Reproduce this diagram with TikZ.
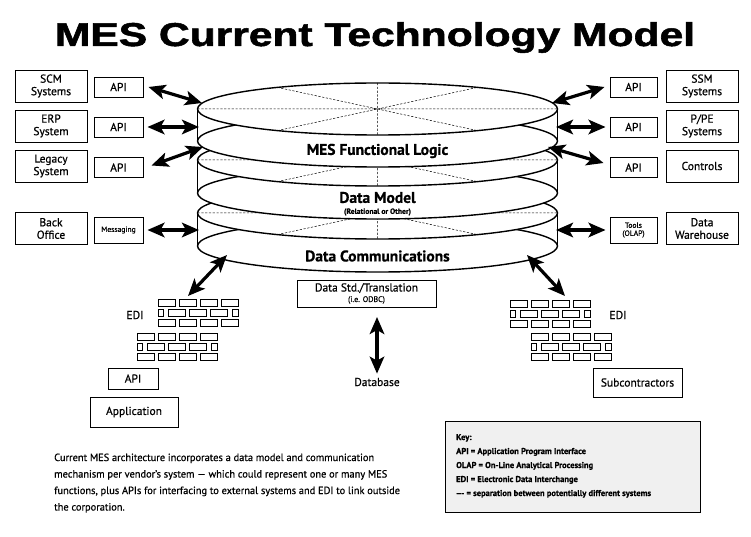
\documentclass[tikz,border=0pt]{standalone}
\usepackage{fontspec}
\usepackage{graphicx}
\usetikzlibrary{arrows.meta}
\setmainfont{PT Sans}[FakeBold=0.6]
\newfontfamily\titlefont{Liberation Sans Bold}[FakeBold=1.5]
\newcommand\fsz[1]{\fontsize{#1}{#1}\selectfont}
\def\cx{377.5}
\def\rx{180}
\def\ry{26}
\newcommand\mesdisk[2]{%
  \fill[white] (\cx-\rx,#1) rectangle (\cx+\rx,#2);
  \filldraw[fill=white,cyl] (\cx,#2) ellipse [x radius=\rx, y radius=\ry];
  \draw[cyl] (\cx-\rx,#1) -- (\cx-\rx,#2) (\cx+\rx,#1) -- (\cx+\rx,#2);
  \filldraw[fill=white,cyl] (\cx,#1) ellipse [x radius=\rx, y radius=\ry];
  \draw[sepline] (\cx-\rx,#1) -- (\cx+\rx,#1)
                 (\cx,#1-\ry) -- (\cx,#1+\ry)
                 (\cx-100,#1-21.6) -- (\cx+100,#1+21.6)
                 (\cx-100,#1+21.6) -- (\cx+100,#1-21.6);
}
\newcommand\mesbricks[2]{%
  \begin{scope}[shift={(#1,#2)}]
    \foreach \i in {0,1,2,3} {
      \draw[brick] (\i*21,0) rectangle ++(17.7,7);
      \draw[brick] (\i*21,20) rectangle ++(17.7,7);
    }
    \draw[brick] (0,10) rectangle ++(5.7,7);
    \foreach \i in {0,1,2} {\draw[brick] (10+\i*21,10) rectangle ++(17.7,7);}
    \draw[brick] (74,10) rectangle ++(6.7,7);
  \end{scope}
}
\tikzset{
  cyl/.style={line width=1.4pt},
  sepline/.style={line width=0.5pt, dash pattern=on 2.2pt off 1.6pt},
  brick/.style={line width=0.8pt},
  sysbox/.style={draw, line width=0.9pt, minimum width=72pt, minimum height=32pt,
    align=center, inner sep=0pt, font=\fontsize{11.5}{12.5}\selectfont},
  apibox/.style={draw, line width=0.9pt, minimum width=49pt, minimum height=20pt,
    align=center, inner sep=0pt, font=\fsz{11.5}},
  bigarrow/.style={line width=3.2pt, {Stealth[length=17pt,width=14.5pt,inset=4pt]}-{Stealth[length=17pt,width=14.5pt,inset=4pt]}},
  disklabel/.style={font=\bfseries\fsz{15.5}, inner sep=0pt},
  keytext/.style={anchor=base west, inner sep=0pt, font=\bfseries\fsz{8.5}},
  paratext/.style={anchor=base west, inner sep=0pt, font=\fsz{10.4}},
}
\begin{document}
\begin{tikzpicture}[x=1pt,y=-1pt]
\useasboundingbox[fill=white] (0,0) rectangle (751,537);

% title
\node[anchor=base, inner sep=0pt] (title) at (375,46)
  {\titlefont\fsz{33}\scalebox{1.29}[1]{MES Current Technology Model}};

% cylinder stack
\mesdisk{213}{246}
\mesdisk{160}{193}
\mesdisk{109}{141}
\node[disklabel] (logic) at (377.5,151) {MES Functional Logic};
\node[disklabel] (model) at (377.5,197.5) {Data Model};
\node[fill=white, inner sep=0.8pt, font=\bfseries\fsz{7.6}] (rel) at (377.5,212) {(Relational or Other)};
\node[disklabel] (comm) at (377.5,256) {Data Communications};

% left boxes
\node[sysbox] (scm) at (51,86) {SCM\\Systems};
\node[sysbox] (erp) at (51,126) {ERP\\System};
\node[sysbox] (legacy) at (51,166) {Legacy\\System};
\node[sysbox] (back) at (51,228.5) {Back\\Office};
\node[apibox] (apiL1) at (118.5,87) {API};
\node[apibox] (apiL2) at (118.5,127) {API};
\node[apibox] (apiL3) at (118.5,167.5) {API};
\node[apibox, minimum height=26pt, font=\fsz{7.6}] (msg) at (118.5,230) {Messaging};

% right boxes
\node[sysbox] (ssm) at (702,86) {SSM\\Systems};
\node[sysbox] (ppe) at (702,126) {P/PE\\Systems};
\node[sysbox] (ctrl) at (702,166) {Controls};
\node[sysbox] (dw) at (702,228.5) {Data\\Warehouse};
\node[apibox, minimum width=47pt] (apiR1) at (633.5,87) {API};
\node[apibox, minimum width=47pt] (apiR2) at (633.5,127) {API};
\node[apibox, minimum width=47pt] (apiR3) at (633.5,167.5) {API};
\node[apibox, minimum width=47pt, minimum height=26pt, font=\fontsize{7.6}{8}\selectfont] (tools) at (633.5,230) {Tools\\(OLAP)};

% cylinder contact points
\coordinate (cL1) at (202,103);
\coordinate (cL2) at (199,127);
\coordinate (cL3) at (203,147);
\coordinate (cL4) at (199,230);
\coordinate (cR1) at (552,103);
\coordinate (cR2) at (556,127);
\coordinate (cR3) at (548,147);
\coordinate (cR4) at (556,230);
\coordinate (cB1) at (227,255);
\coordinate (cB2) at (527,255);
\coordinate (wallL) at (188,296);
\coordinate (wallR) at (565,296);

\draw[bigarrow] ([xshift=5pt]apiL1.east) -- (cL1);
\draw[bigarrow] ([xshift=4pt]apiL2.east) -- (cL2);
\draw[bigarrow] ([xshift=8pt,yshift=2pt]apiL3.east) -- (cL3);
\draw[bigarrow] ([xshift=4pt]msg.east) -- (cL4);
\draw[bigarrow] (cR1) -- ([xshift=-5pt]apiR1.west);
\draw[bigarrow] (cR2) -- ([xshift=-4pt]apiR2.west);
\draw[bigarrow] (cR3) -- ([xshift=-6pt,yshift=4.5pt]apiR3.west);
\draw[bigarrow] (cR4) -- ([xshift=-4pt]tools.west);
\draw[bigarrow] (cB1) -- (wallL);
\draw[bigarrow] (cB2) -- (wallR);

% data std / database
\node[draw, line width=0.9pt, minimum width=139pt, minimum height=27pt, align=center, inner sep=0pt,
  font=\fsz{11.5}] (dstd) at (366.5,293.5) {Data Std./Translation\\[-1pt]{\fsz{8}(i.e. ODBC)}};
\node[font=\fsz{11.5}, inner sep=1pt] (db) at (377,382) {Database};
\coordinate (dsout) at (377,317);
\draw[bigarrow] (dsout) -- ([yshift=3pt]db.north);

% brick walls
\mesbricks{158}{299}
\mesbricks{137}{333}
\mesbricks{510}{300}
\mesbricks{531}{333}
\node[font=\fsz{11.5}] (ediL) at (135,315) {EDI};
\node[font=\fsz{11.5}] (ediR) at (618,315) {EDI};

% bottom boxes
\node[apibox, minimum width=50pt, minimum height=21pt] (apiB) at (133,378.5) {API};
\node[apibox, minimum width=88pt, minimum height=30pt] (app) at (134,412) {Application};
\node[apibox, minimum width=89pt, minimum height=29pt] (sub) at (637.5,382.5) {Subcontractors};

% paragraph
\node[paratext] (p1) at (54,461) {Current MES architecture incorporates a data model and communication};
\node[paratext] (p2) at (54,477.5) {mechanism per vendor’s system — which could represent one or many MES};
\node[paratext] (p3) at (54,494) {functions, plus APIs for interfacing to external systems and EDI to link outside};
\node[paratext] (p4) at (54,510.5) {the corporation.};

% key
\node[draw, line width=0.9pt, fill=gray!12, minimum width=255pt, minimum height=91pt, anchor=north west, inner sep=0pt] (keybox) at (445,421) {};
\node[keytext] (k1) at (456,440) {Key:};
\node[keytext] (k2) at (456,454) {API = Application Program Interface};
\node[keytext] (k3) at (456,468) {OLAP = On-Line Analytical Processing};
\node[keytext] (k4) at (456,482) {EDI = Electronic Data Interchange};
\node[keytext] (k5) at (456,496) {-{}-{}- = separation between potentially different systems};
\end{tikzpicture}
\end{document}
